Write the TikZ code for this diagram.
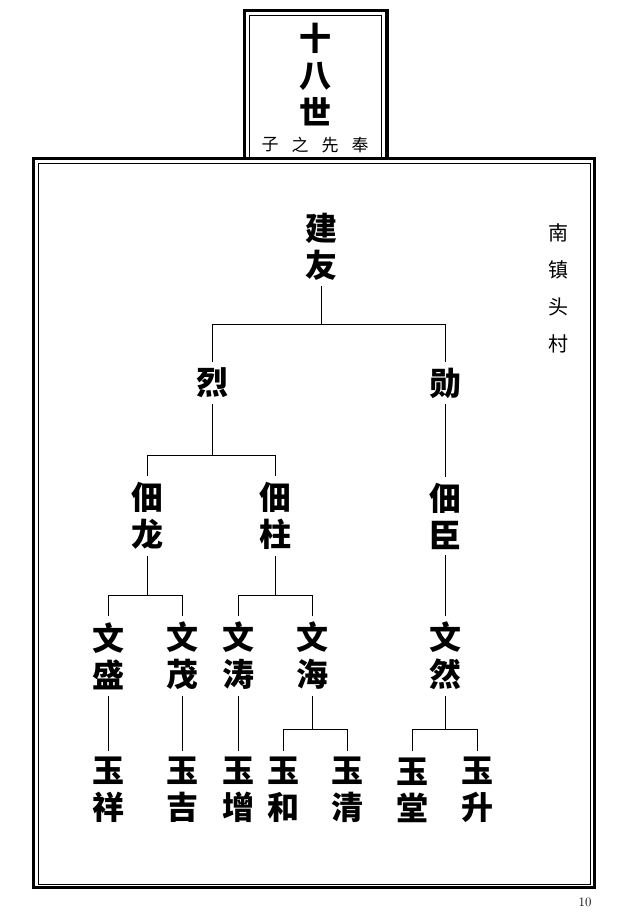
\documentclass[tikz,border=0pt]{standalone}
\usepackage{fontspec}
\newfontfamily\cjk{Noto Sans CJK SC}
\begin{document}
\begin{tikzpicture}[x=1pt, y=-1pt,
    person/.style={font=\cjk\bfseries\fontsize{32}{37}\selectfont, align=center, inner xsep=2pt, inner ysep=6pt},
    small/.style={font=\cjk\fontsize{#1}{#1}\selectfont, inner sep=0pt}]
    \useasboundingbox (0,0) rectangle (632,916);
    \draw[line width=3.5pt] (244.5,158.5) |- (387,10.5) -- (387,158.5);
    \draw[line width=0.9pt] (249.5,158.5) |- (381.5,15.5) -- (381.5,158.5);
    \draw[line width=3.5pt] (33.5,158.5) rectangle (594.5,887.5);
    \draw[line width=0.9pt] (38.5,163.5) rectangle (590.5,884);

    \node[person] (title) at (315,75) {十\\八\\世};
    \foreach \c [count=\i] in {子,之,先,奉}
        \node[small=17] (s\i) at (240+30*\i,145) {\c};
    \foreach \c [count=\i] in {南,镇,头,村}
        \node[small=20] (v\i) at (558,196+37*\i) {\c};
    \node (page) at (585,902) {\fontsize{13}{13}\selectfont 10};

    \node[person] (jy) at (321,246.5) {建\\友};
    \node[person] (lie) at (212,383) {烈};
    \node[person] (xun) at (445,383) {勋};
    \node[person] (gl) at (147,516) {佃\\龙};
    \node[person] (gz) at (275,516) {佃\\柱};
    \node[person] (gc) at (445,516) {佃\\臣};
    \node[person] (ws) at (108,656) {文\\盛};
    \node[person] (wm) at (182.5,656) {文\\茂};
    \node[person] (wt) at (238.5,656) {文\\涛};
    \node[person] (wh) at (312,656) {文\\海};
    \node[person] (wr) at (445,656) {文\\然};
    \node[person] (yx) at (108,790) {玉\\祥};
    \node[person] (yj) at (182.5,790) {玉\\吉};
    \node[person] (yz) at (238.5,790) {玉\\增};
    \node[person] (yh) at (283,790) {玉\\和};
    \node[person] (yq) at (347,790) {玉\\清};
    \node[person] (yt) at (412,790) {玉\\堂};
    \node[person] (ys) at (477,790) {玉\\升};

    \foreach \p/\a/\b/\h in {jy/lie/xun/38, lie/gl/gz/21, gl/ws/wm/21, gz/wt/wh/21, wh/yh/yq/22, wr/yt/ys/22}
        \draw (\a.north) -- ++(0,-\h) -| (\b.north)
              (\p.south) -- ([yshift=\h pt]\p.south |- \a.north);
    \foreach \a/\b in {xun/gc, gc/wr, ws/yx, wm/yj, wt/yz}
        \draw (\a) -- (\b);
\end{tikzpicture}
\end{document}
